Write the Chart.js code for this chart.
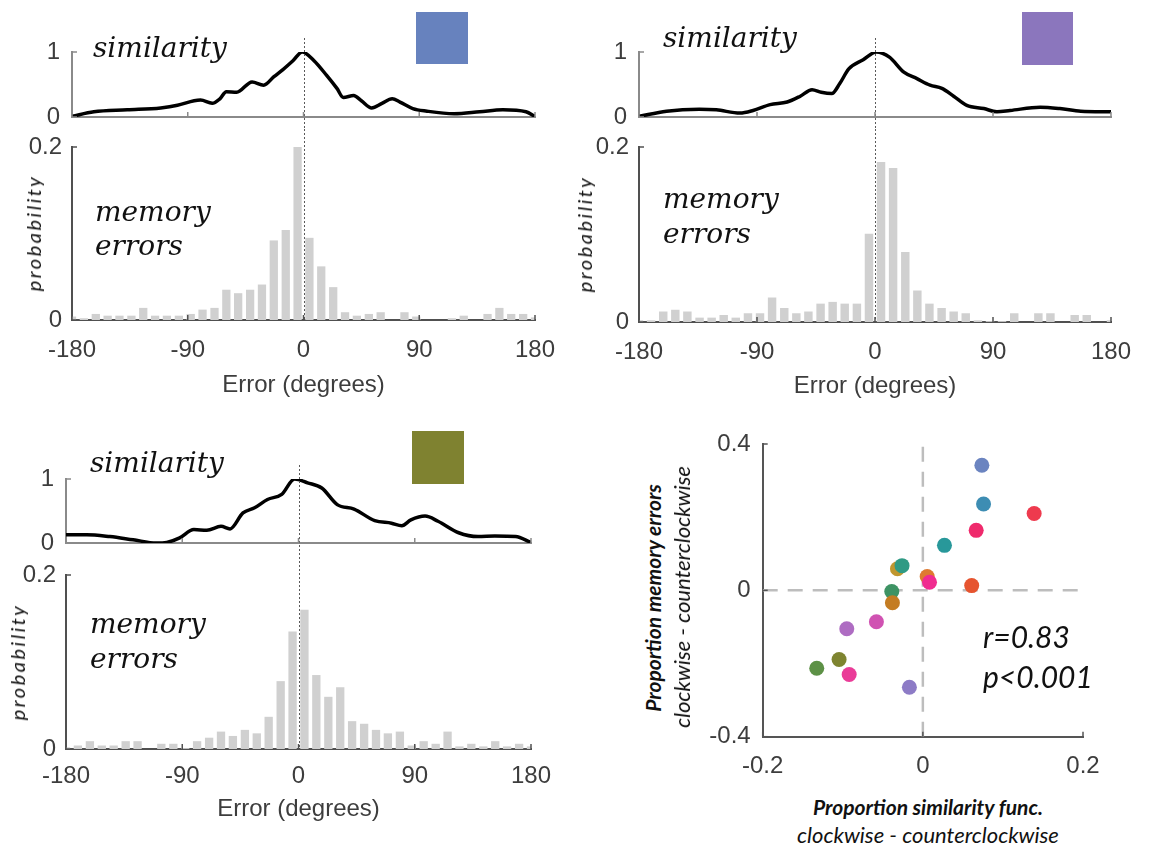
<!DOCTYPE html>
<html><head><meta charset="utf-8">
<script src="https://cdn.jsdelivr.net/npm/chart.js@4.4.1/dist/chart.umd.min.js"></script>
<style>
html,body{margin:0;padding:0;background:#fff;}
#stage{position:relative;width:1154px;height:852px;overflow:hidden;background:#fff;}
canvas.cv{position:absolute;}
.t{position:absolute;white-space:nowrap;line-height:1;color:#111;}
.sw{position:absolute;}
</style></head><body><div id="stage"></div>
<script>
// ---------------- data ----------------
const errorTicks = [-180, -90, 0, 90, 180];
const simTicks = [0, 1];
const probTicks = [0, 0.2];
const scatterXTicks = [-0.2, 0, 0.2];
const scatterYTicks = [-0.4, 0, 0.4];

// centres of the 40 histogram bins (degrees)
const binCenters = [-180, -170.8, -161.5, -152.3, -143.1, -133.8, -124.6, -115.4, -106.2, -96.9,
  -87.7, -78.5, -69.2, -60, -50.8, -41.5, -32.3, -23.1, -13.8, -4.6,
  4.6, 13.8, 23.1, 32.3, 41.5, 50.8, 60, 69.2, 78.5, 87.7,
  96.9, 106.2, 115.4, 124.6, 133.8, 143.1, 152.3, 161.5, 170.8, 180];

const histA = [0.004, 0.002, 0.007, 0.005, 0.005, 0.005, 0.014, 0.005, 0.005, 0.005,
  0.007, 0.012, 0.014, 0.035, 0.031, 0.035, 0.041, 0.092, 0.104, 0.200,
  0.095, 0.062, 0.038, 0.009, 0.005, 0.007, 0.009, 0, 0.009, 0.004,
  0, 0, 0.002, 0.005, 0, 0.007, 0.014, 0.007, 0.007, 0.003];
const histB = [0.002, 0.002, 0.012, 0.014, 0.012, 0.005, 0.005, 0.008, 0.005, 0.010,
  0.010, 0.028, 0.016, 0.010, 0.012, 0.021, 0.023, 0.021, 0.021, 0.101,
  0.183, 0.176, 0.080, 0.036, 0.021, 0.016, 0.012, 0.010, 0.002, 0.001,
  0.001, 0.010, 0, 0.010, 0.010, 0, 0.008, 0.008, 0, 0.002];
const histC = [0.002, 0.004, 0.009, 0.004, 0.004, 0.009, 0.009, 0, 0.006, 0.006,
  0.001, 0.009, 0.013, 0.020, 0.015, 0.022, 0.018, 0.037, 0.078, 0.135,
  0.160, 0.085, 0.060, 0.071, 0.032, 0.029, 0.022, 0.018, 0.020, 0.004,
  0.009, 0.006, 0.020, 0.003, 0.006, 0.003, 0.009, 0.003, 0.006, 0.003];

const simAX = [-180, -163, -137, -111, -98, -85, -80, -71, -65, -60, -52, -40, -31, -23, -16, -8, -1, 8, 18, 26, 31, 39, 45, 53, 61, 69, 75, 85, 96, 117, 137, 155, 173, 180];
const simAY = [0.01, 0.08, 0.11, 0.14, 0.18, 0.25, 0.26, 0.21, 0.28, 0.39, 0.38, 0.54, 0.49, 0.62, 0.73, 0.87, 1.0, 0.87, 0.64, 0.44, 0.30, 0.33, 0.25, 0.14, 0.21, 0.28, 0.23, 0.13, 0.09, 0.05, 0.08, 0.11, 0.08, 0.01];
const simBX = [-180, -159, -134, -121, -103, -93, -80, -67, -57, -48, -41, -33, -27, -20, -9, 1, 11, 22, 32, 42, 51, 60, 70, 83, 93, 103, 126, 141, 157, 180];
const simBY = [0.01, 0.09, 0.12, 0.11, 0.06, 0.10, 0.19, 0.23, 0.32, 0.42, 0.38, 0.36, 0.51, 0.74, 0.88, 1.0, 0.92, 0.69, 0.59, 0.49, 0.44, 0.32, 0.18, 0.13, 0.08, 0.10, 0.15, 0.13, 0.09, 0.08];
const simCX = [-180, -164, -146, -128, -110, -102, -92, -81, -71, -60, -53, -43, -34, -24, -13, -3, 7, 18, 30, 43, 59, 72, 80, 87, 98, 108, 124, 139, 152, 168, 180];
const simCY = [0.13, 0.13, 0.10, 0.05, 0.0, 0.01, 0.08, 0.21, 0.20, 0.26, 0.22, 0.47, 0.55, 0.68, 0.76, 1.0, 0.94, 0.86, 0.60, 0.53, 0.35, 0.31, 0.27, 0.36, 0.42, 0.34, 0.16, 0.10, 0.11, 0.10, 0.01];

const scatterX = [0.0737, 0.0758, 0.139, 0.0666, 0.027, -0.0317, -0.026, 0.0054, 0.0083, 0.061, -0.0388, -0.038, -0.058, -0.095, -0.1046, -0.1325, -0.092, -0.0168];
const scatterY = [0.342, 0.236, 0.210, 0.164, 0.123, 0.059, 0.0675, 0.038, 0.022, 0.013, -0.003, -0.034, -0.086, -0.105, -0.189, -0.213, -0.230, -0.265];
const scatterColors = ['#6b84c0', '#3d8db3', '#ee3a4e', '#ef2a6c', '#28989a', '#c0972f', '#2f9a84', '#df7a30', '#f02c90', '#e6542f', '#3e9364', '#c47c22', '#d052b2', '#ae6cc2', '#7e8430', '#5d9146', '#ea3c98', '#8d7bc6'];
const zeroX = [0, 0];
const zeroXY = [-0.4, 0.4];
const zeroYX = [-0.2, 0.2];
const zeroY = [0, 0];

// ---------------- helpers ----------------
const stage = document.getElementById('stage');
const TICK_FONT = {family: "'Liberation Sans', Arial, sans-serif", size: 24};
const TICK_COLOR = '#3d3d3d';
const fixTicks = arr => s => { s.ticks = arr.map(v => ({value: v})); };
const lbl = v => String(v);
const pts = (xs, ys) => xs.map((x, i) => ({x: x, y: ys[i]}));

function addCanvas(L) {
  const c = document.createElement('canvas');
  c.className = 'cv';
  c.width = L.width; c.height = L.height;
  c.style.left = L.left + 'px'; c.style.top = L.top + 'px';
  c.style.width = L.width + 'px'; c.style.height = L.height + 'px';
  stage.appendChild(c);
  return c;
}

const zeroLine = {
  id: 'zeroLine',
  afterDatasetsDraw(chart, args, opts) {
    const x = Math.round(chart.scales.x.getPixelForValue(0)) + 0.5;
    const ctx = chart.ctx;
    ctx.save();
    ctx.strokeStyle = '#5a5a5a'; ctx.lineWidth = 1; ctx.setLineDash([2, 2]);
    ctx.beginPath();
    ctx.moveTo(x, chart.chartArea.top - (opts.up || 0));
    ctx.lineTo(x, chart.chartArea.bottom + (opts.down || 0));
    ctx.stroke();
    ctx.restore();
  }
};
const inTicks = {
  id: 'inTicks',
  afterDraw(chart, args, opts) {
    const ctx = chart.ctx; const a = chart.chartArea; const len = opts.len || 5;
    ctx.save(); ctx.strokeStyle = opts.color || '#555'; ctx.lineWidth = opts.width || 1.5;
    chart.scales.x.ticks.forEach(t => {
      const p = chart.scales.x.getPixelForValue(t.value);
      ctx.beginPath(); ctx.moveTo(p, a.bottom); ctx.lineTo(p, a.bottom - len); ctx.stroke();
    });
    chart.scales.y.ticks.forEach(t => {
      const p = chart.scales.y.getPixelForValue(t.value);
      ctx.beginPath(); ctx.moveTo(a.left, p); ctx.lineTo(a.left + len, p); ctx.stroke();
    });
    ctx.restore();
  }
};

function commonOpts(L) {
  return {
    responsive: false, animation: false, events: [],
    layout: {padding: {top: L.padTop, right: L.padRight, left: 0, bottom: 0}},
    plugins: {legend: {display: false}, tooltip: {enabled: false}}
  };
}

function simChart(L, xs, ys) {
  const o = commonOpts(L);
  o.plugins.zeroLine = {up: 14, down: 12};
  o.plugins.inTicks = {len: 5, color: '#8a8a8a', width: 1.5};
  o.scales = {
    x: {type: 'linear', min: -180, max: 180, offset: false,
        grid: {display: false, drawTicks: false}, border: {color: '#8a8a8a', width: 2},
        ticks: {display: false}, afterBuildTicks: fixTicks(errorTicks),
        afterFit: s => { s.height = L.xAxisH; }},
    y: {type: 'linear', min: 0, max: 1,
        grid: {display: false, drawTicks: false}, border: {color: '#8a8a8a', width: 2},
        ticks: {font: TICK_FONT, color: TICK_COLOR, padding: 12, callback: lbl},
        afterBuildTicks: fixTicks(simTicks), afterFit: s => { s.width = L.yAxisW; }}
  };
  return new Chart(addCanvas(L), {
    type: 'scatter',
    data: {datasets: [{data: pts(xs, ys), showLine: true, borderColor: '#000', borderWidth: 3.5,
      pointRadius: 0, cubicInterpolationMode: 'monotone', fill: false}]},
    options: o, plugins: [zeroLine, inTicks]
  });
}

function histChart(L, vals) {
  const o = commonOpts(L);
  o.plugins.zeroLine = {up: 18, down: 0};
  o.plugins.inTicks = {len: 5, color: '#505050', width: 1.5};
  o.scales = {
    x: {type: 'linear', min: -180, max: 180, offset: false,
        grid: {display: false, drawTicks: false, offset: false}, border: {color: '#505050', width: 2},
        ticks: {font: TICK_FONT, color: TICK_COLOR, padding: L.tickPad, maxRotation: 0, autoSkip: false, callback: lbl},
        afterBuildTicks: fixTicks(errorTicks), afterFit: s => { s.height = L.xAxisH; },
        title: {display: true, text: 'Error (degrees)', font: {family: TICK_FONT.family, size: 24}, color: TICK_COLOR,
                padding: {top: 0, bottom: L.titlePad}}},
    y: {type: 'linear', min: 0, max: 0.2,
        grid: {display: false, drawTicks: false}, border: {color: '#505050', width: 2},
        ticks: {font: TICK_FONT, color: TICK_COLOR, padding: 10, callback: lbl},
        afterBuildTicks: fixTicks(probTicks), afterFit: s => { s.width = L.yAxisW; }}
  };
  return new Chart(addCanvas(L), {
    type: 'bar',
    data: {datasets: [{data: pts(binCenters, vals), backgroundColor: '#d0d0d0', borderWidth: 0,
      categoryPercentage: 1, barPercentage: 0.7, clip: 0}]},
    options: o, plugins: [zeroLine, inTicks]
  });
}

// ---------------- panels ----------------
simChart({left: 30, top: 24, width: 515, height: 121, padTop: 28, padRight: 10, yAxisW: 42, xAxisH: 28}, simAX, simAY);
histChart({left: 0, top: 121, width: 575, height: 279, padTop: 26, padRight: 40, yAxisW: 72, xAxisH: 80, tickPad: 16, titlePad: 0}, histA);

simChart({left: 597, top: 24, width: 524, height: 121, padTop: 28, padRight: 10, yAxisW: 42, xAxisH: 28}, simBX, simBY);
histChart({left: 567, top: 121, width: 584, height: 281, padTop: 26, padRight: 40, yAxisW: 72, xAxisH: 80, tickPad: 16, titlePad: 1}, histB);

simChart({left: 24, top: 451, width: 517, height: 120, padTop: 28, padRight: 10, yAxisW: 42, xAxisH: 28}, simCX, simCY);
histChart({left: 0, top: 549, width: 571, height: 280, padTop: 26, padRight: 40, yAxisW: 66, xAxisH: 80, tickPad: 13, titlePad: 5}, histC);

// scatter
(function () {
  const L = {left: 680, top: 416, width: 439, height: 366, padTop: 28, padRight: 36, yAxisW: 82.7, xAxisH: 45.3};
  const o = commonOpts(L);
  o.plugins.inTicks = {len: 5, color: '#555', width: 1.5};
  o.scales = {
    x: {type: 'linear', min: -0.2, max: 0.2,
        grid: {display: false, drawTicks: false}, border: {color: '#555', width: 2},
        ticks: {font: TICK_FONT, color: TICK_COLOR, padding: 15, maxRotation: 0, autoSkip: false, callback: lbl},
        afterBuildTicks: fixTicks(scatterXTicks), afterFit: s => { s.height = L.xAxisH; }},
    y: {type: 'linear', min: -0.4, max: 0.4,
        grid: {display: false, drawTicks: false}, border: {color: '#555', width: 2},
        ticks: {font: TICK_FONT, color: TICK_COLOR, padding: 12, callback: lbl},
        afterBuildTicks: fixTicks(scatterYTicks), afterFit: s => { s.width = L.yAxisW; }}
  };
  new Chart(addCanvas(L), {
    type: 'scatter',
    data: {datasets: [
      {data: pts(scatterX, scatterY), pointRadius: 7.5, pointBackgroundColor: scatterColors, pointBorderWidth: 0, showLine: false},
      {data: pts(zeroX, zeroXY), showLine: true, pointRadius: 0, borderColor: '#bdbdbd', borderWidth: 2.5, borderDash: [15, 10]},
      {data: pts(zeroYX, zeroY), showLine: true, pointRadius: 0, borderColor: '#bdbdbd', borderWidth: 2.5, borderDash: [15, 10]}
    ]},
    options: o, plugins: [inTicks]
  });
})();

// ---------------- text annotations ----------------
const mctx = document.createElement('canvas').getContext('2d');
function textAt(txt, x, baseline, family, size, style, weight, align) {
  const font = (style || 'normal') + ' ' + (weight || 'normal') + ' ' + size + 'px ' + family;
  mctx.font = font;
  const m = mctx.measureText('Hg');
  const A = m.fontBoundingBoxAscent, D = m.fontBoundingBoxDescent;
  const off = (size - (A + D)) / 2 + A;
  const d = document.createElement('div');
  d.className = 't';
  d.textContent = txt;
  d.style.font = font; d.style.lineHeight = size + 'px';
  d.style.left = x + 'px'; d.style.top = (baseline - off) + 'px';
  if (align === 'center') d.style.transform = 'translateX(-50%)';
  stage.appendChild(d);
  return d;
}
function vText(txt, cx, cy, family, size, style, weight, spacing) {
  const d = document.createElement('div');
  d.className = 't';
  d.textContent = txt;
  d.style.font = (style || 'normal') + ' ' + (weight || 'normal') + ' ' + size + 'px ' + family;
  d.style.lineHeight = size + 'px';
  if (spacing) d.style.letterSpacing = spacing + 'px';
  d.style.left = cx + 'px'; d.style.top = cy + 'px';
  d.style.transform = 'translate(-50%,-50%) rotate(-90deg)';
  stage.appendChild(d);
}
function swatch(x, y, w, h, color) {
  const d = document.createElement('div');
  d.className = 'sw';
  Object.assign(d.style, {left: x + 'px', top: y + 'px', width: w + 'px', height: h + 'px', background: color});
  stage.appendChild(d);
}

const SERIF = "'DejaVu Serif', serif";
const SANS_I = "Lato, 'Open Sans', sans-serif";

textAt('similarity', 93, 57, SERIF, 28, 'italic');
textAt('memory', 95, 221, SERIF, 28, 'italic');
textAt('errors', 95, 255, SERIF, 28, 'italic');
textAt('similarity', 663, 47, SERIF, 28, 'italic');
textAt('memory', 663, 208, SERIF, 28, 'italic');
textAt('errors', 663, 243, SERIF, 28, 'italic');
textAt('similarity', 90, 472, SERIF, 28, 'italic');
textAt('memory', 90, 633, SERIF, 28, 'italic');
textAt('errors', 90, 668, SERIF, 28, 'italic');

vText('probability', 33, 233, SANS_I, 20, 'italic', 'normal', 2.5);
vText('probability', 584, 234, SANS_I, 20, 'italic', 'normal', 2.5);
vText('probability', 17, 662, SANS_I, 20, 'italic', 'normal', 2.5);

swatch(416, 12, 52, 52, '#6782be');
swatch(1022, 12, 51, 53, '#8b76bd');
swatch(412, 431, 52, 53, '#7f8230');

textAt('r=0.83', 983, 648, SANS_I, 30, 'italic');
textAt('p<0.001', 983, 688, SANS_I, 30, 'italic');

vText('Proportion memory errors', 652, 598, SANS_I, 21, 'italic', 'bold');
vText('clockwise - counterclockwise', 682, 597, SANS_I, 22, 'italic', 'normal');
textAt('Proportion similarity func.', 928, 815, SANS_I, 21, 'italic', 'bold', 'center');
textAt('clockwise - counterclockwise', 928, 843, SANS_I, 22, 'italic', 'normal', 'center');
</script>
</body></html>
